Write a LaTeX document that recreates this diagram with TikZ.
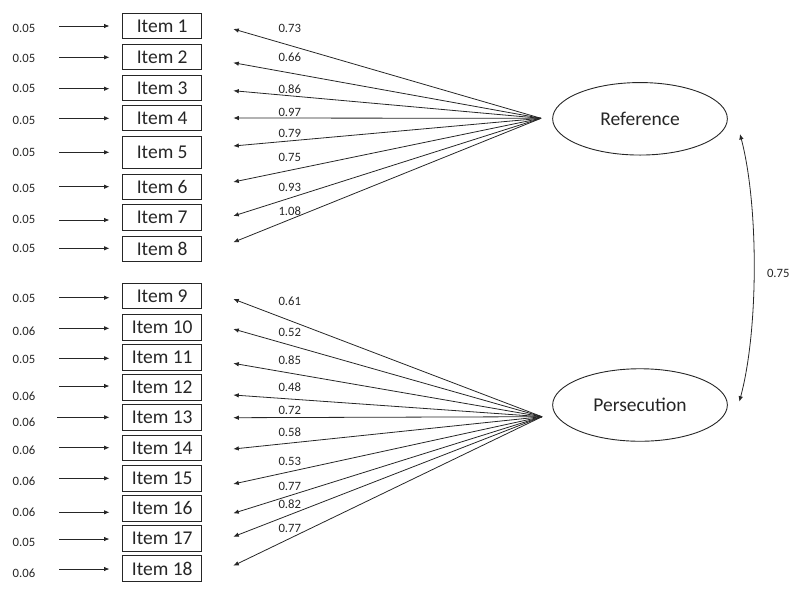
\documentclass[tikz,border=0pt]{standalone}
\usepackage{fontspec}
\setmainfont{Carlito}
\usetikzlibrary{arrows.meta,shapes.geometric}
\begin{document}
\begin{tikzpicture}[x=1pt,y=-1pt,
  itembox/.style={draw=black!85,line width=1pt,minimum width=79pt,minimum height=25.5pt,inner sep=0pt,font=\fontsize{19.5}{22}\selectfont,text=black!85},
  latent/.style={draw=black!85,line width=0.9pt,ellipse,minimum width=174.7pt,minimum height=72.5pt,inner sep=0pt,font=\fontsize{19.5}{22}\selectfont,text=black!85},
  small/.style={font=\fontsize{12.7}{14}\selectfont,text=black!85,inner sep=0pt},
  arr/.style={draw=black!85,line width=0.8pt,-{Latex[length=5.5pt,width=4.5pt]}},
  darr/.style={draw=black!85,line width=0.8pt,{Latex[length=5.5pt,width=4.5pt]}-{Latex[length=5.5pt,width=4.5pt]}}]
\useasboundingbox (0,0) rectangle (800,595);

% item boxes
\foreach \i/\yc/\h in {1/26.2/25.5,2/57.2/25.5,3/88/25.5,4/118.2/25.5,5/152.3/32,6/186.8/25.5,7/217.5/25.5,8/249/25.5,
  9/296.2/25.5,10/327.3/25.5,11/357.7/25.5,12/387.7/25.5,13/417.7/25.5,14/448/25.5,15/478.3/25.5,16/508.3/25.5,17/538.3/25.5,18/568.7/25.5}
  \node[itembox,minimum height=\h pt] (i\i) at (162.2,\yc) {Item \i};

% error variances
\foreach \i/\ay/\ly/\v/\sx in {1/26/28/0.05/59,2/57.3/58.3/0.05/59,3/88.7/88.3/0.05/59,4/118.3/120.7/0.05/59,5/152.3/152.3/0.05/59,6/186.7/188.7/0.05/59,7/220/219.3/0.05/59,8/248.3/248.3/0.05/59,
  9/297.7/298.3/0.05/59,10/328.3/331.7/0.06/59,11/358.3/359.3/0.05/59,12/386/396/0.06/59,13/417.3/422.7/0.06/57,14/447.7/450/0.06/59,15/478.3/481.7/0.06/59,16/512.3/512.3/0.06/59,17/539/542.7/0.05/59,18/569/573.3/0.06/59}
{
  \coordinate (e\i) at (\sx,\ay);
  \node[small] (v\i) at (24,\ly) {\v};
  \draw[arr,shorten >=12.7pt] (e\i) -- (e\i -| i\i.west);
}

% latent variables
\node[latent] (ref) at (640,118.8) {Reference};
\node[latent] (per) at (640,405) {Persecution};

\coordinate (fa) at (541,118.3);
\coordinate (fb) at (542,416.7);

% loadings, Reference
\foreach \i/\ty/\ly/\v in {1/29/28.3/0.73,2/62.7/57.7/0.66,3/90.7/89.3/0.86,4/118/112.3/0.97,5/146/133.3/0.79,6/182/157.3/0.75,7/216/187.3/0.93,8/242.3/211.7/1.08}
{
  \coordinate (t\i) at (233.3,\ty);
  \draw[arr] (fa) -- (t\i);
  \node[small,anchor=west] (l\i) at (278.3,\ly) {\v};
}
% loadings, Persecution
\foreach \i/\ty/\ly/\v in {9/299/301.7/0.61,10/329/332.3/0.52,11/363.3/360/0.85,12/395/387.7/0.48,13/417.7/410/0.72,14/449/432.7/0.58,15/484/461/0.53,16/513.3/486/0.77,17/536.7/504.3/0.82,18/565.7/528.3/0.77}
{
  \coordinate (t\i) at (233.3,\ty);
  \draw[arr] (fb) -- (t\i);
  \node[small,anchor=west] (l\i) at (278.3,\ly) {\v};
}

% correlation
\coordinate (ca) at (740,134);
\coordinate (cb) at (739.3,401.7);
\draw[darr] (ca) .. controls (758.7,205) and (758.7,330) .. (cb);
\node[small] (corr) at (778.3,273.3) {0.75};
\end{tikzpicture}
\end{document}
